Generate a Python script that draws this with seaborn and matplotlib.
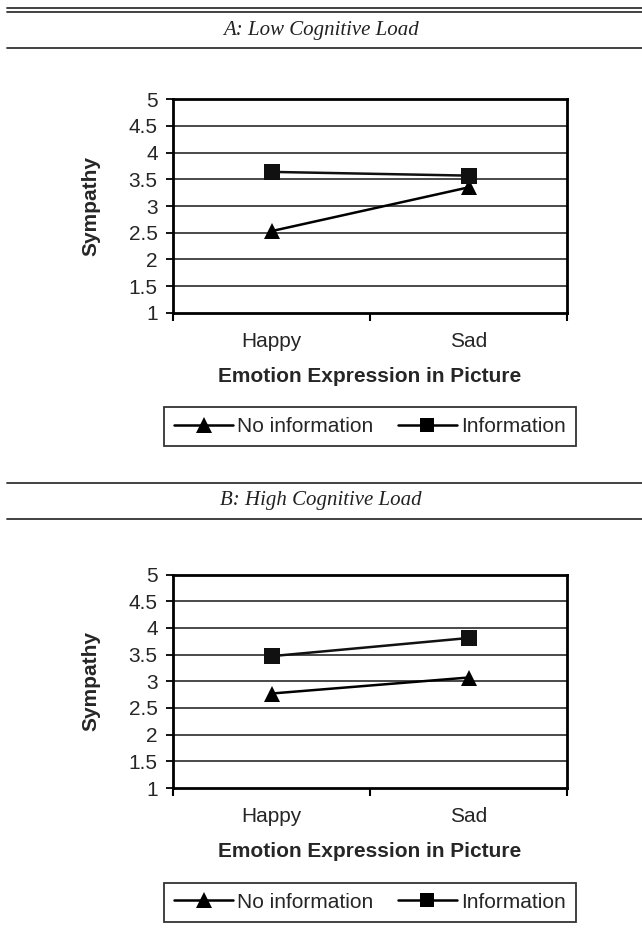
import pandas as pd
import matplotlib.pyplot as plt
from matplotlib.lines import Line2D
import seaborn as sns

# Data
emotions = ['Happy', 'Sad']
conditions = ['No information', 'Information']
low_load_no_info = [2.53, 3.35]
low_load_info = [3.64, 3.57]
high_load_no_info = [2.77, 3.07]
high_load_info = [3.47, 3.81]

panel_titles = ['A: Low Cognitive Load', 'B: High Cognitive Load']
y_ticks = [1, 1.5, 2, 2.5, 3, 3.5, 4, 4.5, 5]
y_tick_labels = ['1', '1.5', '2', '2.5', '3', '3.5', '4', '4.5', '5']

W, H = 642, 949

sns.set_style("white")
plt.rcParams['font.family'] = ['Liberation Sans', 'DejaVu Sans']


def make_df(no_info, info):
    rows = []
    for cond, vals in zip(conditions, [no_info, info]):
        for emo, v in zip(emotions, vals):
            rows.append({'emotion': emo, 'sympathy': v, 'condition': cond})
    return pd.DataFrame(rows)


def hline(fig, y_px, x0=7, x1=642, lw=1.3, color='#333333'):
    fig.add_artist(Line2D([x0 / W, x1 / W], [1 - y_px / H, 1 - y_px / H],
                          transform=fig.transFigure, color=color, lw=lw))


def draw_panel(fig, df, top_px, title, title_y, rules):
    left, right, bottom = 173, 567, top_px + 213.5
    ax = fig.add_axes([left / W, 1 - bottom / H, (right - left) / W, 213.5 / H])

    for y in rules:
        hline(fig, y)
    fig.text(321 / W, 1 - title_y / H, title, ha='center', va='center',
             fontsize=15, style='italic', family=['Liberation Serif', 'DejaVu Serif'],
             color='#222222')

    sns.lineplot(data=df, x='emotion', y='sympathy', hue='condition', style='condition',
                 markers={'No information': '^', 'Information': 's'}, dashes=False,
                 palette={'No information': 'black', 'Information': '#111111'},
                 markersize=11, linewidth=1.8, markeredgewidth=0, legend=False,
                 sort=False, ax=ax)

    ax.set_xlim(-0.5, 1.5)
    ax.set_ylim(1, 5)
    ax.set_yticks(y_ticks, y_tick_labels)
    ax.set_xticks([0, 1], emotions)
    ax.set_xticks([-0.5, 0.5, 1.5], minor=True)
    ax.tick_params(axis='x', which='major', length=0, pad=14, labelsize=15)
    ax.tick_params(axis='x', which='minor', length=6, width=1.5, direction='out',
                   bottom=True, color='black')
    ax.tick_params(axis='y', length=5, width=1.3, direction='out', left=True,
                   pad=6, labelsize=15, color='black')

    for yv in y_ticks[1:-1]:
        ax.axhline(yv, color='#3a3a3a', lw=1.3, zorder=0)
    for sp in ax.spines.values():
        sp.set_color('black')
        sp.set_linewidth(2)

    ax.set_xlabel('Emotion Expression in Picture', fontsize=15, fontweight='bold')
    ax.set_ylabel('Sympathy', fontsize=15, fontweight='bold')
    ax.xaxis.set_label_coords(0.5, -(367 - 312.7) / 213.5)
    ax.yaxis.set_label_coords((100 - 173) / 394, 0.5)

    handles = [Line2D([], [], color='black', lw=1.8, marker='^', markersize=11,
                      markeredgewidth=0),
               Line2D([], [], color='black', lw=1.8, marker='s', markersize=10,
                      markeredgewidth=0)]
    leg_y = bottom + 114
    leg = fig.legend(handles, conditions, loc='center', ncol=2,
                     bbox_to_anchor=(370 / W, 1 - leg_y / H), fontsize=15,
                     frameon=True, fancybox=False, edgecolor='black',
                     handlelength=2.8, handletextpad=0.2, columnspacing=1.2,
                     borderpad=0.48)
    leg.get_frame().set_linewidth(1.3)
    return ax


fig = plt.figure(figsize=(W / 100, H / 100), dpi=100)

draw_panel(fig, make_df(low_load_no_info, low_load_info), 99.3,
           panel_titles[0], 30, [8, 12, 48])
draw_panel(fig, make_df(high_load_no_info, high_load_info), 574.5,
           panel_titles[1], 501, [483, 519])

plt.savefig('out.png', dpi=100)
